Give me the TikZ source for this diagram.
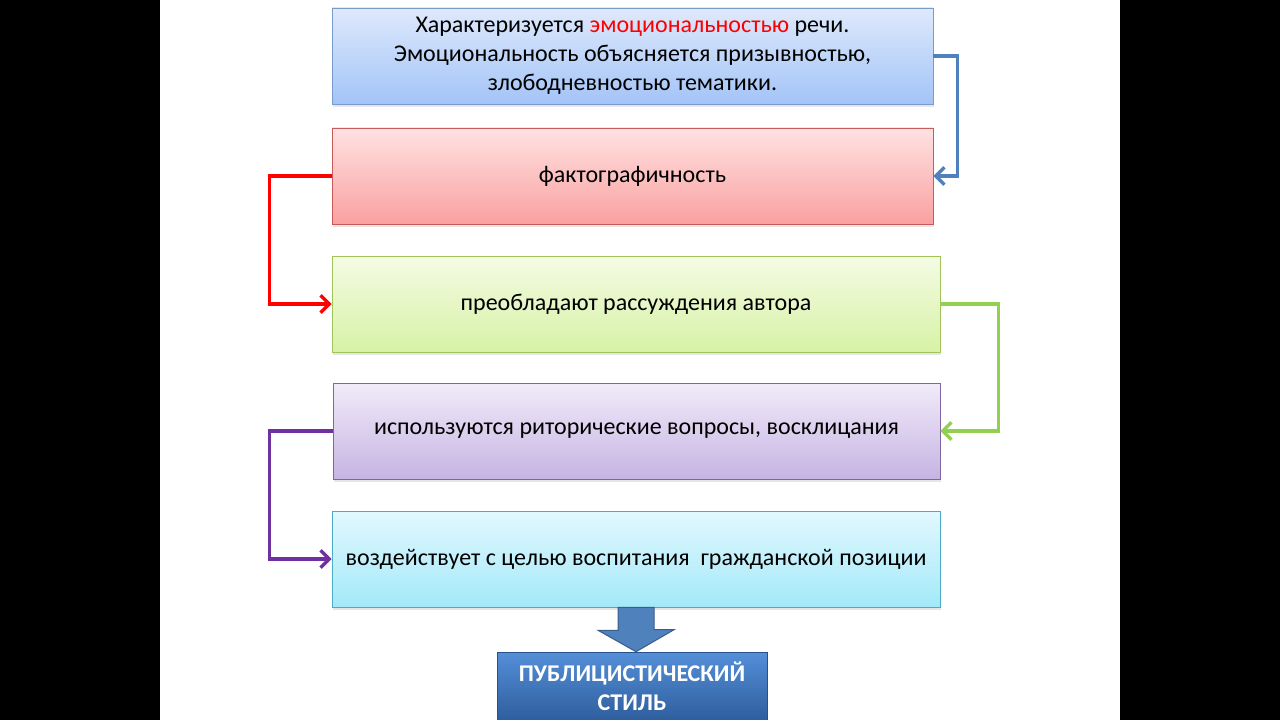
\documentclass[tikz,border=0pt]{standalone}
\usepackage{fontspec}
\setmainfont{Carlito}
\usetikzlibrary{positioning, shadows, arrows.meta, calc}
\definecolor{lnblue}{HTML}{4F81BD}
\definecolor{lnred}{HTML}{FF0000}
\definecolor{lngreen}{HTML}{92D050}
\definecolor{lnpurple}{HTML}{7030A0}

\begin{document}
\begin{tikzpicture}[x=0.75pt,y=-0.75pt,
    box/.style={draw, rectangle, minimum height=72pt, align=center, inner sep=2pt,
      font=\fontsize{18}{21.75}\selectfont, text depth=3pt,
      drop shadow={opacity=0.2, shadow xshift=1pt, shadow yshift=-2pt}},
    conn/.style={line width=2.6pt, -{Straight Barb[length=6.5pt, width=13pt, line width=2.6pt]}}]

    \useasboundingbox (0,0) rectangle (1280,720);
    \fill[black] (0,0) rectangle (160,720);
    \fill[black] (1120,0) rectangle (1280,720);

      \node[box, minimum width=450.75pt, draw={rgb,255:red,120;green,155;blue,205}, top color={rgb,255:red,222;green,233;blue,252}, bottom color={rgb,255:red,163;green,196;blue,247}]  (b_1) at (632.5,56)
        {Характеризуется {\color{red}эмоциональностью} речи.\\ Эмоциональность объясняется призывностью,\\ злободневностью тематики.};
      \node[box, minimum width=450.75pt, draw={rgb,255:red,200;green,90;blue,90}, top color={rgb,255:red,255;green,226;blue,226}, bottom color={rgb,255:red,250;green,160;blue,160}]  (b_2) at (632.5,176) {фактографичность};
      \node[box, minimum width=456pt, draw={rgb,255:red,160;green,195;blue,90}, top color={rgb,255:red,244;green,251;blue,228}, bottom color={rgb,255:red,215;green,242;blue,166}]  (b_3) at (636,304) {преобладают рассуждения автора};
      \node[box, minimum width=455.25pt, draw={rgb,255:red,130;green,100;blue,165}, top color={rgb,255:red,241;green,235;blue,249}, bottom color={rgb,255:red,198;green,180;blue,227}]  (b_4) at (636.5,431) {используются риторические вопросы, восклицания};
      \node[box, minimum width=456pt, draw={rgb,255:red,75;green,172;blue,198}, top color={rgb,255:red,226;green,248;blue,254}, bottom color={rgb,255:red,163;green,233;blue,249}]  (b_5) at (636,559) {воздействует с целью воспитания~ гражданской позиции};

      \node[draw={rgb,255:red,40;green,80;blue,140}, minimum width=202.5pt, minimum height=51pt, align=center, text=white,
        top color={rgb,255:red,84;green,143;blue,216}, bottom color={rgb,255:red,47;green,94;blue,158},
        font=\fontsize{18}{21.75}\selectfont\bfseries,
        drop shadow={opacity=0.3, shadow xshift=1pt, shadow yshift=-2pt}]  (s_end) at (632,686)
        {ПУБЛИЦИСТИЧЕСКИЙ\\ СТИЛЬ};

      % big arrow to the style box
      \draw[draw={rgb,255:red,56;green,93;blue,138}, fill=lnblue, line width=0.75pt]
        ($(b_5.south)+(-18,0)$) -- ++(0,23) -- ++(-20,0) -- (s_end.north -| b_5.south)
        -- ++(38,-22) -- ++(-20,0) -- ($(b_5.south)+(18,0)$) -- cycle;

      \draw[conn, lnblue] (b_1.east) -- ++(24,0) |- (b_2.east);
      \draw[conn, lnred] (b_2.west) -- ++(-62,0) |- (b_3.west);
      \draw[conn, lngreen] (b_3.east) -- ++(58,0) |- (b_4.east);
      \draw[conn, lnpurple] (b_4.west) -- ++(-63,0) |- (b_5.west);
    \end{tikzpicture}
\end{document}
